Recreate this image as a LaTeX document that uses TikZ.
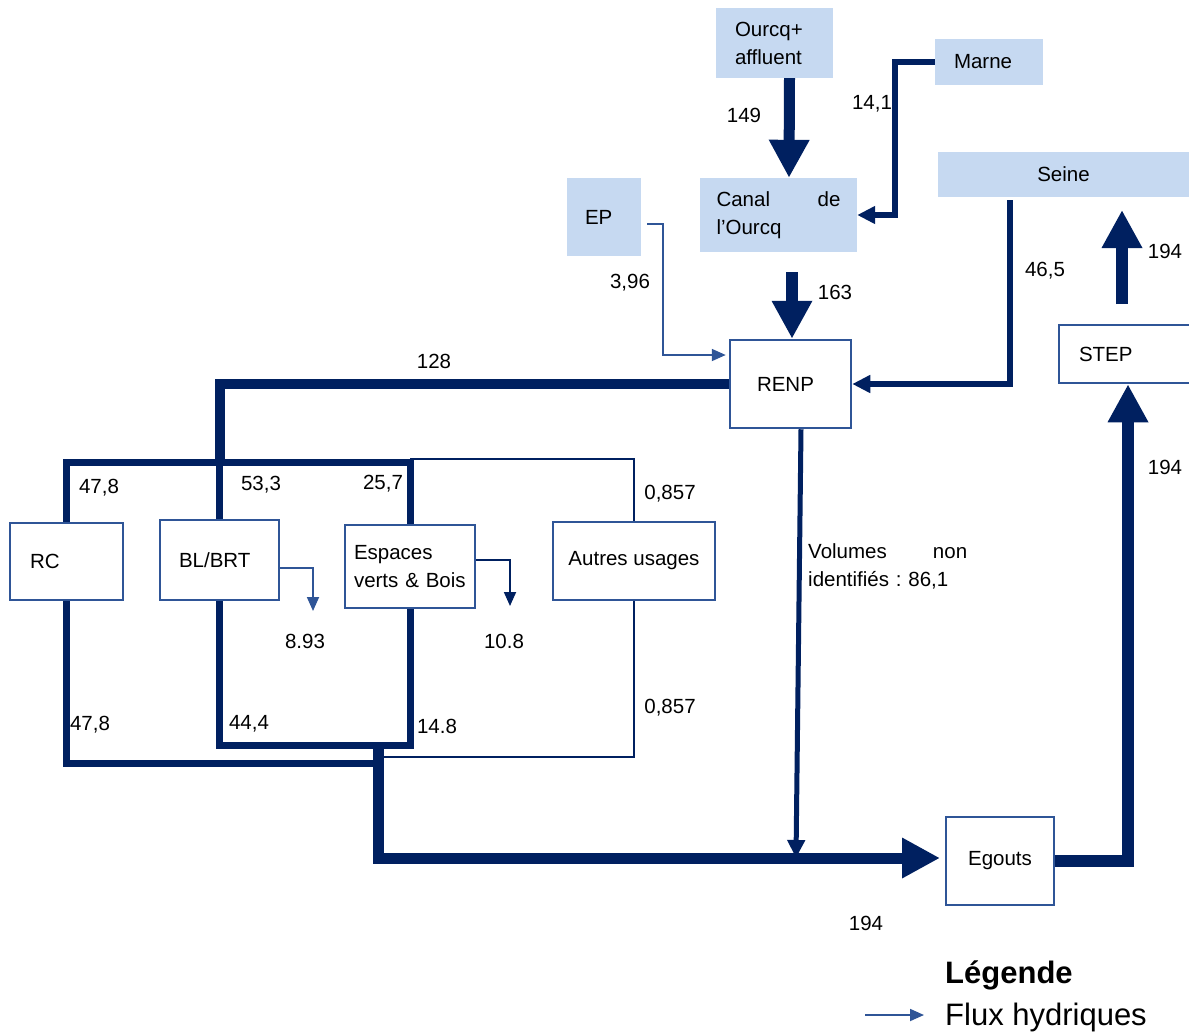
\documentclass[tikz,border=0pt]{standalone}
\usepackage{fontspec}
\setmainfont{Liberation Sans}
\frenchspacing
\usetikzlibrary{arrows.meta}
\definecolor{navy}{RGB}{0,32,96}
\definecolor{midblue}{RGB}{47,85,151}
\definecolor{srcfill}{RGB}{198,217,241}
\tikzset{
  src/.style={fill=srcfill, inner sep=0pt, align=left},
  usage/.style={draw=midblue, line width=2.5pt, fill=white, inner sep=0pt, align=left},
  val/.style={inner sep=0pt},
  bigflow/.style={navy, line width=11pt, -{Triangle[width=38pt,length=38pt]}},
  midflow/.style={navy, line width=5.5pt, -{Triangle[width=17pt,length=18pt]}},
  thinflow/.style={midblue, line width=1.8pt, -{Triangle[width=12pt,length=14pt]}},
  pipe/.style={navy, line width=7pt},
  thinpipe/.style={navy, line width=1.8pt}
}
\begin{document}
\begin{tikzpicture}[x=1pt, y=-1pt, font=\fontsize{20.5}{28}\selectfont]
    \useasboundingbox (0,0) rectangle (1189,1034);

    % sources
    \node[src, minimum width=117pt, minimum height=70pt, text width=79pt] (ourcq) at (774.5,43) {Ourcq+\\affluent};
    \node[src, minimum width=108pt, minimum height=46pt, text width=70pt] (marne) at (989,62) {Marne};
    \node[src, minimum width=157pt, minimum height=74pt, text width=124pt] (canal) at (778.5,215) {Canal\hfill de\\l’Ourcq};
    \node[src, minimum width=74pt, minimum height=78pt, text width=38pt] (ep) at (604,217) {EP};
    \node[src, minimum width=251pt, minimum height=45pt] (seine) at (1063.5,174.5) {Seine};

    % ouvrages et usages
    \node[usage, minimum width=121pt, minimum height=88pt, text width=67pt] (renp) at (790.5,384) {RENP};
    \node[usage, minimum width=138pt, minimum height=58pt, text width=98pt] (step) at (1128,354) {STEP};
    \node[usage, minimum width=113pt, minimum height=77pt, text width=73pt] (rc) at (66.5,561.5) {RC};
    \node[usage, minimum width=119pt, minimum height=80pt, text width=81pt] (blbrt) at (219.5,560) {BL/BRT};
    \node[usage, minimum width=130pt, minimum height=83pt, text width=112pt] (ev) at (410,566.5) {Espaces\\verts \& Bois};
    \node[usage, minimum width=162pt, minimum height=78pt] (autres) at (634,561) {Autres usages};
    \node[usage, minimum width=108pt, minimum height=88pt] (egouts) at (1000,861) {Egouts};

    % points de passage
    \coordinate (marnebend) at (895,62);
    \coordinate (epbend) at (663,355);
    \coordinate (canalout) at (792,272);
    \coordinate (seinebend) at (1010,384);
    \coordinate (steptop) at (1122,304);
    \coordinate (seinebot) at (1122,210);
    \coordinate (split) at (219.5,462);
    \coordinate (jrc) at (378,763);
    \coordinate (jbl) at (378,745);
    \coordinate (jau) at (380,757);
    \coordinate (volend) at (796,858);
    \coordinate (sewerin) at (940,858);
    \coordinate (loss1) at (313,611);
    \coordinate (loss2) at (510,606);

    % apports
    \draw[bigflow] ([xshift=15pt]ourcq.south) -- ([xshift=10.5pt]canal.north);
    \draw[midflow] (marne.west) -- (marnebend) |- (canal.east);
    \draw[thinflow] ([xshift=6pt,yshift=-7pt]ep.east) -| (epbend) -- ([xshift=-3pt]epbend -| renp.west);
    \draw[bigflow, line width=12pt] (canalout) -- (canalout |- renp.north);
    \draw[midflow, line width=6.5pt] ([xshift=-53.5pt,yshift=-3pt]seine.south) -- (seinebend) -- (renp.east);
    \draw[bigflow, line width=12pt] (steptop) -- (seinebot);

    % distribution
    \draw[pipe, line width=10pt] (renp.west) -| (split);
    \draw[pipe] (rc.north) |- (ev.north |- split) -- (ev.north);
    \draw[pipe] (split) -- (blbrt.north);
    \draw[thinpipe] ([yshift=3pt]ev.north |- split) -| (autres.north);

    % pertes
    \draw[thinflow] ([yshift=-8pt]blbrt.east) -| (loss1);
    \draw[thinflow, navy] ([yshift=6.5pt]ev.east) -| (loss2);

    % rejets
    \draw[pipe] (rc.south) |- (jrc);
    \draw[pipe] (blbrt.south) |- (ev.south |- jbl) -- (ev.south);
    \draw[thinpipe] (autres.south) |- (jau);
    \draw[bigflow, line width=11pt] (jbl) |- (sewerin);
    \draw[midflow, line width=5pt] ([xshift=10.5pt]renp.south) -- (volend);
    \draw[bigflow, line width=12pt] (egouts.east) -| (step.south);

    % valeurs
    \node[val] (v149) at (744,115) {149};
    \node[val] (v141) at (872,104) {14,1};
    \node[val] (v396) at (630,283) {3,96};
    \node[val] (v163) at (835,292) {163};
    \node[val] (v465) at (1045,271) {46,5};
    \node[val] (v194a) at (1165,251) {194};
    \node[val] (v194b) at (1165,467) {194};
    \node[val] (v128) at (434,361) {128};
    \node[val] (v478a) at (99,488) {47,8};
    \node[val] (v533) at (261,485) {53,3};
    \node[val] (v257) at (383,484) {25,7};
    \node[val] (v857a) at (670,494) {0,857};
    \node[val] (v893) at (305,641) {8.93};
    \node[val] (v108) at (504,641) {10.8};
    \node[val] (v478b) at (90,725) {47,8};
    \node[val] (v444) at (249,724) {44,4};
    \node[val] (v148) at (437,726) {14.8};
    \node[val] (v857b) at (670,708) {0,857};
    \node[val] (v194c) at (866,923) {194};
    \node[val, text width=159pt, align=left, anchor=north west] (vol) at (808,543) {Volumes\hfill non\\identifiés : 86,1};

    % legende
    \node[font=\fontsize{31}{36}\selectfont\bfseries, anchor=west, inner sep=0pt] (leg) at (945,975) {Légende};
    \coordinate (legA) at (865,1015);
    \coordinate (legB) at (924,1015);
    \draw[thinflow] (legA) -- (legB);
    \node[font=\fontsize{31}{36}\selectfont, anchor=west, inner sep=0pt] (flux) at (945,1017) {Flux hydriques};
\end{tikzpicture}
\end{document}
